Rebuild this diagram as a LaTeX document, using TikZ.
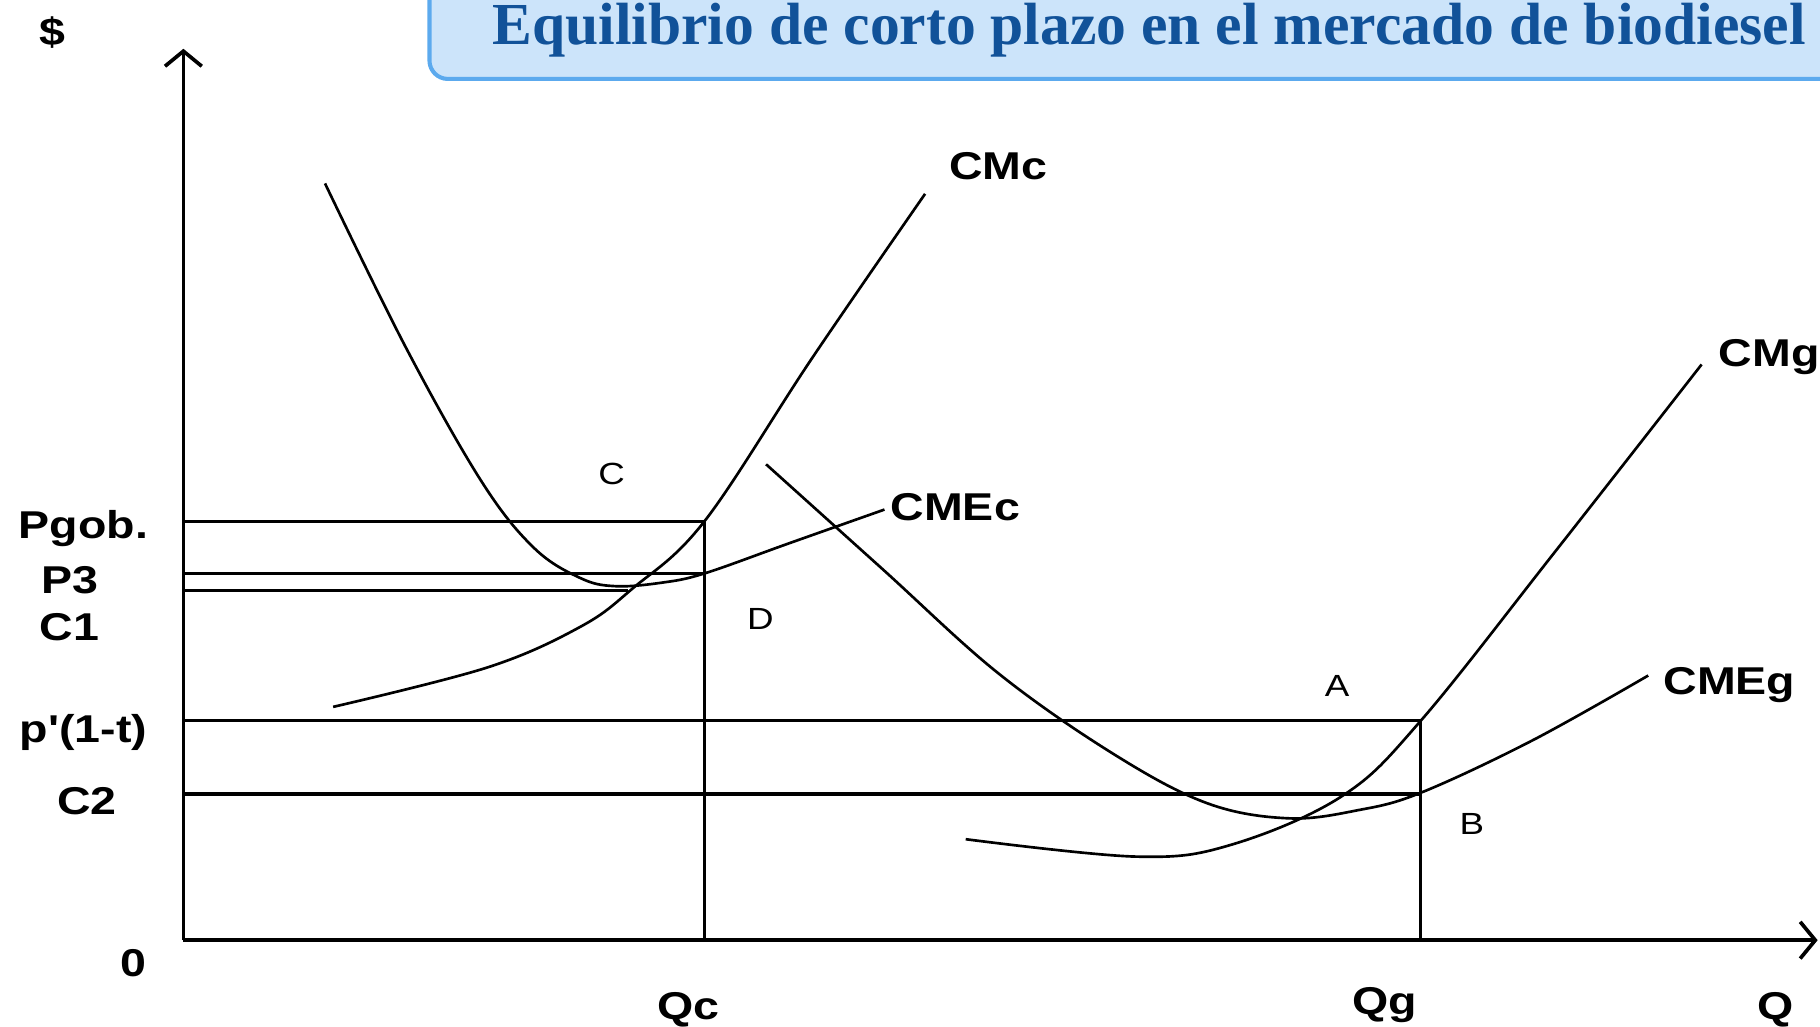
\documentclass[tikz,border=0pt]{standalone}
\usepackage{fontspec}
\usetikzlibrary{arrows.meta}
\newfontfamily\lblfont[FakeStretch=1.2]{Liberation Sans}
\newfontfamily\titlefont{Liberation Serif}
\definecolor{titlefill}{RGB}{204,228,250}
\definecolor{titleedge}{RGB}{92,170,238}
\definecolor{titleink}{RGB}{17,82,153}
\begin{document}
\begin{tikzpicture}[
   x=0.01cm, y=-0.01cm,
   axis/.style={line width=0.9pt, -{Straight Barb[length=3.7pt,width=9pt]}},
   level/.style={line width=0.8pt},
   curve/.style={line width=0.65pt, smooth, tension=0.6},
   lbl/.style={font=\lblfont\fontsize{9.5}{11}\selectfont\bfseries, inner sep=0pt},
   ptlbl/.style={font=\lblfont\fontsize{7.5}{9}\selectfont, inner sep=0pt},
   title/.style={font=\titlefont\fontsize{14.6}{16}\selectfont\bfseries, text=titleink, inner sep=0pt}
]
\useasboundingbox (0,0) rectangle (1568,884);

% Title box
\draw[draw=titleedge, fill=titlefill, line width=1pt, rounded corners=4.5pt] (370,-40) rectangle (1620,68);
\node[title] (title) at (990,26) {Equilibrio de corto plazo en el mercado de biodiesel};

% Axes
\coordinate (O) at (158,810);
\coordinate (ytop) at (158,42);
\coordinate (xend) at (1566,810);
\draw[axis] (O) -- (ytop);
\draw[axis] (O) -- (xend);

% Levels and quantities
\coordinate (Ec) at (607,449);
\coordinate (Fc) at (607,494);
\coordinate (Gc) at (541,509);
\coordinate (Eg) at (1224,621);
\coordinate (Fg) at (1224,684);
\coordinate (Qcb) at (607,810);
\coordinate (Qgb) at (1224,810);
\draw[level] (Ec -| O) -- (Ec) -- (Qcb);
\draw[level] (Fc -| O) -- (Fc);
\draw[level] (Gc -| O) -- (Gc);
\draw[level] (Eg -| O) -- (Eg) -- (Qgb);
\draw[level] (Fg -| O) -- (Fg);

% Short-run curves, first plant
\draw[curve] plot coordinates {(280,158) (350,300) (415,415) (460,472) (500,498) (530,505) (570,502) (607,494) (680,468) (762,439)};
\draw[curve] plot coordinates {(287,609) (420,575) (500,540) (545,507) (607,449) (700,308) (797,167)};

% Short-run curves, second plant
\draw[curve] plot coordinates {(660,400) (760,490) (860,580) (960,650) (1040,692) (1110,705) (1170,698) (1224,683) (1320,638) (1420,582)};
\draw[curve] plot coordinates {(832,723) (979,738) (1060,728) (1156,686) (1224,621) (1340,475) (1466,314)};

% Curve labels
\node[lbl] (cmc) at (860,143) {CMc};
\node[lbl] (cmec) at (823,437) {CMEc};
\node[lbl, anchor=west] (cmg) at (1480,308) {CMg};
\node[lbl] (cmeg) at (1490,590) {CMEg};

% Axis labels
\node[lbl] (dollar) at (45,28) {\$};
\node[lbl] (pgob) at (72,455) {Pgob.};
\node[lbl] (p3) at (60,500) {P3};
\node[lbl] (c1) at (60,540) {C1};
\node[lbl] (ptax) at (72,631) {p'(1-t)};
\node[lbl] (c2) at (75,690) {C2};
\node[lbl] (zero) at (115,830) {0};
\node[lbl] (qc) at (593,870) {Qc};
\node[lbl] (qg) at (1193,866) {Qg};
\node[lbl] (q) at (1530,870) {Q};

% Points
\node[ptlbl] (ptc) at (527,408) {C};
\node[ptlbl] (ptd) at (655,533) {D};
\node[ptlbl] (pta) at (1152,591) {A};
\node[ptlbl] (ptb) at (1268,710) {B};

\end{tikzpicture}
\end{document}
